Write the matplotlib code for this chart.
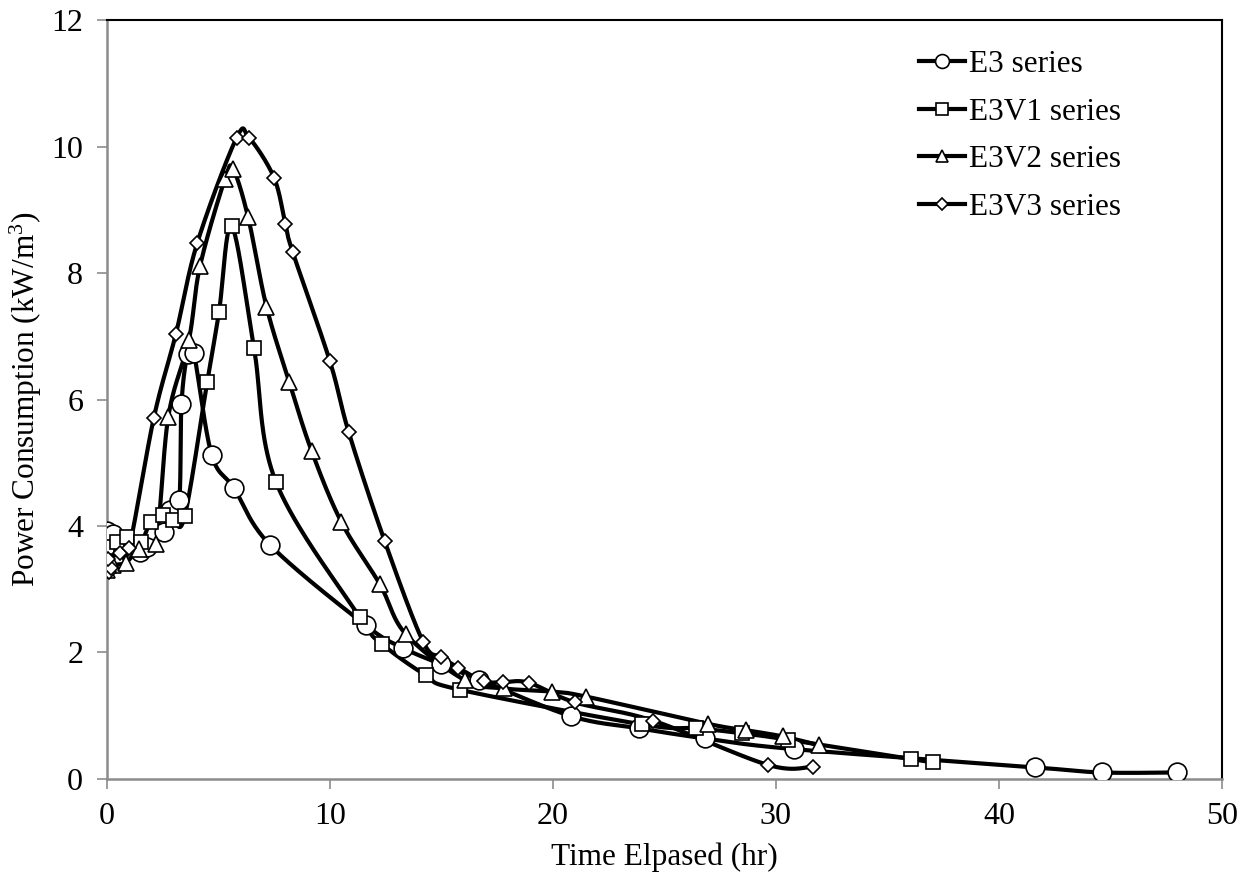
import numpy as np
import matplotlib
matplotlib.use("Agg")
import matplotlib.pyplot as plt
from matplotlib.lines import Line2D

# ---------------- data ----------------
e3_t = [0.0, 0.26, 1.49, 1.79, 2.56, 2.83, 3.25, 3.35, 3.62, 3.9, 4.7, 5.7, 7.32,
        11.6, 13.28, 15.0, 16.7, 20.83, 23.84, 26.8, 30.79, 41.63, 44.62, 47.96]
e3_p = [3.92, 3.87, 3.59, 3.67, 3.91, 4.25, 4.41, 5.93, 6.72, 6.74, 5.13, 4.6, 3.7,
        2.43, 2.07, 1.81, 1.57, 0.99, 0.80, 0.64, 0.47, 0.18, 0.10, 0.10]

e3v1_t = [0.0, 0.47, 0.92, 1.52, 1.97, 2.5, 2.98, 3.5, 4.5, 5.03, 5.6, 6.6, 7.58,
          11.34, 12.32, 14.3, 15.82, 24.0, 26.43, 28.49, 30.53, 36.06, 37.06]
e3v1_p = [3.67, 3.75, 3.83, 3.75, 4.06, 4.17, 4.10, 4.16, 6.27, 7.38, 8.74, 6.82, 4.70,
          2.56, 2.14, 1.64, 1.41, 0.86, 0.80, 0.72, 0.62, 0.31, 0.26]

e3v2_t = [0.0, 0.3, 0.86, 1.46, 2.2, 2.76, 3.68, 4.18, 5.3, 5.67, 6.34, 7.16, 8.18,
          9.18, 10.52, 12.24, 13.4, 16.05, 17.8, 19.97, 21.5, 26.95, 28.64, 30.31, 31.95]
e3v2_p = [3.3, 3.38, 3.42, 3.64, 3.72, 5.73, 6.94, 8.11, 9.49, 9.64, 8.88, 7.47, 6.28,
          5.19, 4.06, 3.08, 2.29, 1.56, 1.43, 1.38, 1.30, 0.87, 0.77, 0.67, 0.53]

e3v3_t = [0.1, 0.19, 0.04, 0.59, 1.0, 2.11, 3.1, 4.06, 5.82, 6.38, 7.5, 8.01, 8.33,
          10.0, 10.85, 12.46, 14.18, 15.0, 15.75, 16.9, 17.77, 18.92, 20.98, 24.49,
          29.64, 31.65]
e3v3_p = [3.27, 3.33, 3.47, 3.57, 3.65, 5.71, 7.04, 8.48, 10.14, 10.14, 9.51, 8.77, 8.34,
          6.61, 5.48, 3.76, 2.17, 1.93, 1.76, 1.54, 1.53, 1.52, 1.21, 0.92,
          0.22, 0.19]

labels = ["E3 series", "E3V1 series", "E3V2 series", "E3V3 series"]
x_ticks = [0, 10, 20, 30, 40, 50]
y_ticks = [0, 2, 4, 6, 8, 10, 12]

# ---------------- style ----------------
plt.rcParams['font.family'] = ['Liberation Serif', 'DejaVu Serif']
plt.rcParams['mathtext.fontset'] = 'custom'
plt.rcParams['mathtext.rm'] = 'Liberation Serif'
plt.rcParams['mathtext.it'] = 'Liberation Serif:italic'

fig = plt.figure(figsize=(12.53, 8.81), dpi=100)
ax = fig.add_axes([0.0852, 0.116, 0.8901, 0.861])
ax.set_xlim(0, 50)
ax.set_ylim(0, 12)


def smooth(ts, ps, n=40):
    """Excel-like smoothed line (Catmull-Rom Bezier) computed in pixel space."""
    bb = ax.get_window_extent()
    sx = bb.width / 50.0
    sy = bb.height / 12.0
    P = np.column_stack([np.asarray(ts) * sx, np.asarray(ps) * sy])
    m = len(P)
    out = [P[0]]
    u = np.linspace(0, 1, n)[1:]
    for i in range(m - 1):
        p0 = P[i - 1] if i > 0 else P[i]
        p1 = P[i]
        p2 = P[i + 1]
        p3 = P[i + 2] if i + 2 < m else P[i + 1]
        c1 = p1 + (p2 - p0) / 6.0
        c2 = p2 - (p3 - p1) / 6.0
        for t in u:
            b = ((1 - t) ** 3) * p1 + 3 * ((1 - t) ** 2) * t * c1 + 3 * (1 - t) * t * t * c2 + t ** 3 * p2
            out.append(b)
    out = np.array(out)
    return out[:, 0] / sx, out[:, 1] / sy


series = [
    (e3_t, e3_p, 'o', 13.5, 10),
    (e3v1_t, e3v1_p, 's', 10.5, 8),
    (e3v2_t, e3v2_p, '^', 11, 8.5),
    (e3v3_t, e3v3_p, 'D', 7.5, 6),
]

handles = []
for (t, p, mk, ms, lms), lab in zip(series, labels):
    xs, ys = smooth(t, p)
    ax.plot(xs, ys, color='black', lw=3.0, solid_capstyle='round', zorder=2)
    ax.plot(t, p, linestyle='none', marker=mk, markersize=ms,
            markerfacecolor='white', markeredgecolor='black', markeredgewidth=1.2, zorder=3)
    handles.append(Line2D([], [], color='black', lw=3.0, marker=mk,
                          markersize=lms, markerfacecolor='white',
                          markeredgecolor='black', markeredgewidth=1.2))

# spines
for s in ['left', 'bottom']:
    ax.spines[s].set_color('#8c8c8c')
    ax.spines[s].set_linewidth(1.8)
for s in ['top', 'right']:
    ax.spines[s].set_color('black')
    ax.spines[s].set_linewidth(1.5)

ax.set_xticks(x_ticks)
ax.set_yticks(y_ticks)
ax.tick_params(axis='both', direction='out', length=7, width=1.2, color='#8c8c8c',
               labelsize=23)
ax.tick_params(axis='x', pad=10)
ax.tick_params(axis='y', pad=10)
ax.tick_params(axis='both', which='both', top=False, right=False)

ax.set_xlabel("Time Elpased (hr)", fontsize=22.5, labelpad=8)
ax.set_ylabel("Power Consumption (kW/m$^3$)", fontsize=22.5, labelpad=5)

leg = ax.legend(handles, labels, loc='upper left', bbox_to_anchor=(0.7285, 0.961),
                frameon=False, fontsize=22.5, handlelength=1.45, handletextpad=0.15,
                labelspacing=0.6, borderaxespad=0.0, borderpad=0.0)

fig.savefig("out.png", dpi=100)
